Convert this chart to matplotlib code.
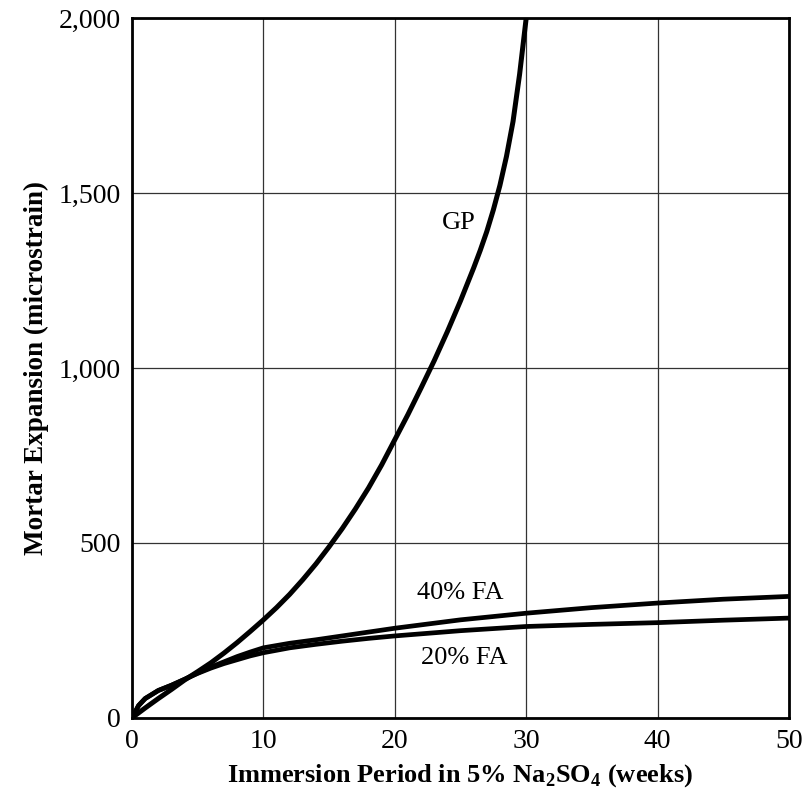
import matplotlib.pyplot as plt
from matplotlib.ticker import FuncFormatter

plt.rcParams['font.family'] = ['Liberation Serif', 'DejaVu Serif']
plt.rcParams['mathtext.fontset'] = 'custom'
plt.rcParams['mathtext.rm'] = 'Liberation Serif'
plt.rcParams['mathtext.bf'] = 'Liberation Serif:bold'

# GP (plain cement) expansion, microstrain
gp_weeks = [0, 1, 2, 3, 4, 5, 6, 7, 8, 9, 10, 11, 12, 13, 14, 15, 16, 17, 18, 19, 20,
            21, 22, 23, 24, 25, 26, 26.5, 27, 27.5, 28, 28.5, 29, 29.5, 30]
gp_vals = [0, 28, 55, 81, 108, 132, 157, 185, 215, 247, 280, 315, 353, 395, 440, 489, 541,
           597, 657, 723, 795, 867, 943, 1021, 1104, 1192, 1286, 1336, 1390, 1452, 1522,
           1605, 1705, 1840, 2000]

fa_weeks = [0, 0.5, 1, 2, 3, 4, 5, 6, 7, 8, 9, 10, 12, 14, 16, 18, 20, 25, 30, 35, 40, 45, 50]
fa40_vals = [0, 35, 55, 78, 93, 110, 128, 145, 160, 175, 188, 200, 213, 223, 234, 245, 256,
             280, 299, 315, 328, 339, 347]
fa20_vals = [0, 35, 55, 78, 93, 110, 127, 142, 155, 166, 177, 186, 200, 210, 219, 227, 234,
             249, 261, 267, 272, 279, 285]

x_ticks = [0, 10, 20, 30, 40, 50]
y_ticks = [0, 500, 1000, 1500, 2000]

fig = plt.figure(figsize=(8.1, 7.94), dpi=100, facecolor='white')
ax = fig.add_axes([0.163, 0.096, 0.811, 0.881])

ax.plot(gp_weeks, gp_vals, color='black', lw=3.6, solid_capstyle='butt', zorder=3)
ax.plot(fa_weeks, fa40_vals, color='black', lw=3.4, solid_capstyle='butt', zorder=3)
ax.plot(fa_weeks, fa20_vals, color='black', lw=3.4, solid_capstyle='butt', zorder=3)

ax.text(24.9, 1415, 'GP', fontsize=19, ha='center', va='center')
ax.text(25.0, 357, '40% FA', fontsize=19, ha='center', va='center')
ax.text(25.3, 170, '20% FA', fontsize=19, ha='center', va='center')

ax.set_xlim(0, 50)
ax.set_ylim(0, 2000)
ax.set_xticks(x_ticks)
ax.set_yticks(y_ticks)
ax.yaxis.set_major_formatter(FuncFormatter(lambda v, p: f'{int(v):,}'))
ax.tick_params(length=0, labelsize=20, pad=8)
ax.grid(True, color='#333333', lw=0.9, zorder=1)
ax.set_axisbelow(True)
for s in ax.spines.values():
    s.set_linewidth(2.0)

ax.set_xlabel(r'Immersion Period in 5% Na$_\mathbf{2}$SO$_\mathbf{4}$ (weeks)',
              fontsize=19, fontweight='bold', labelpad=6)
ax.set_ylabel('Mortar Expansion (microstrain)', fontsize=19.5, fontweight='bold', labelpad=7)

fig.savefig('out.png', dpi=100, facecolor='white')
